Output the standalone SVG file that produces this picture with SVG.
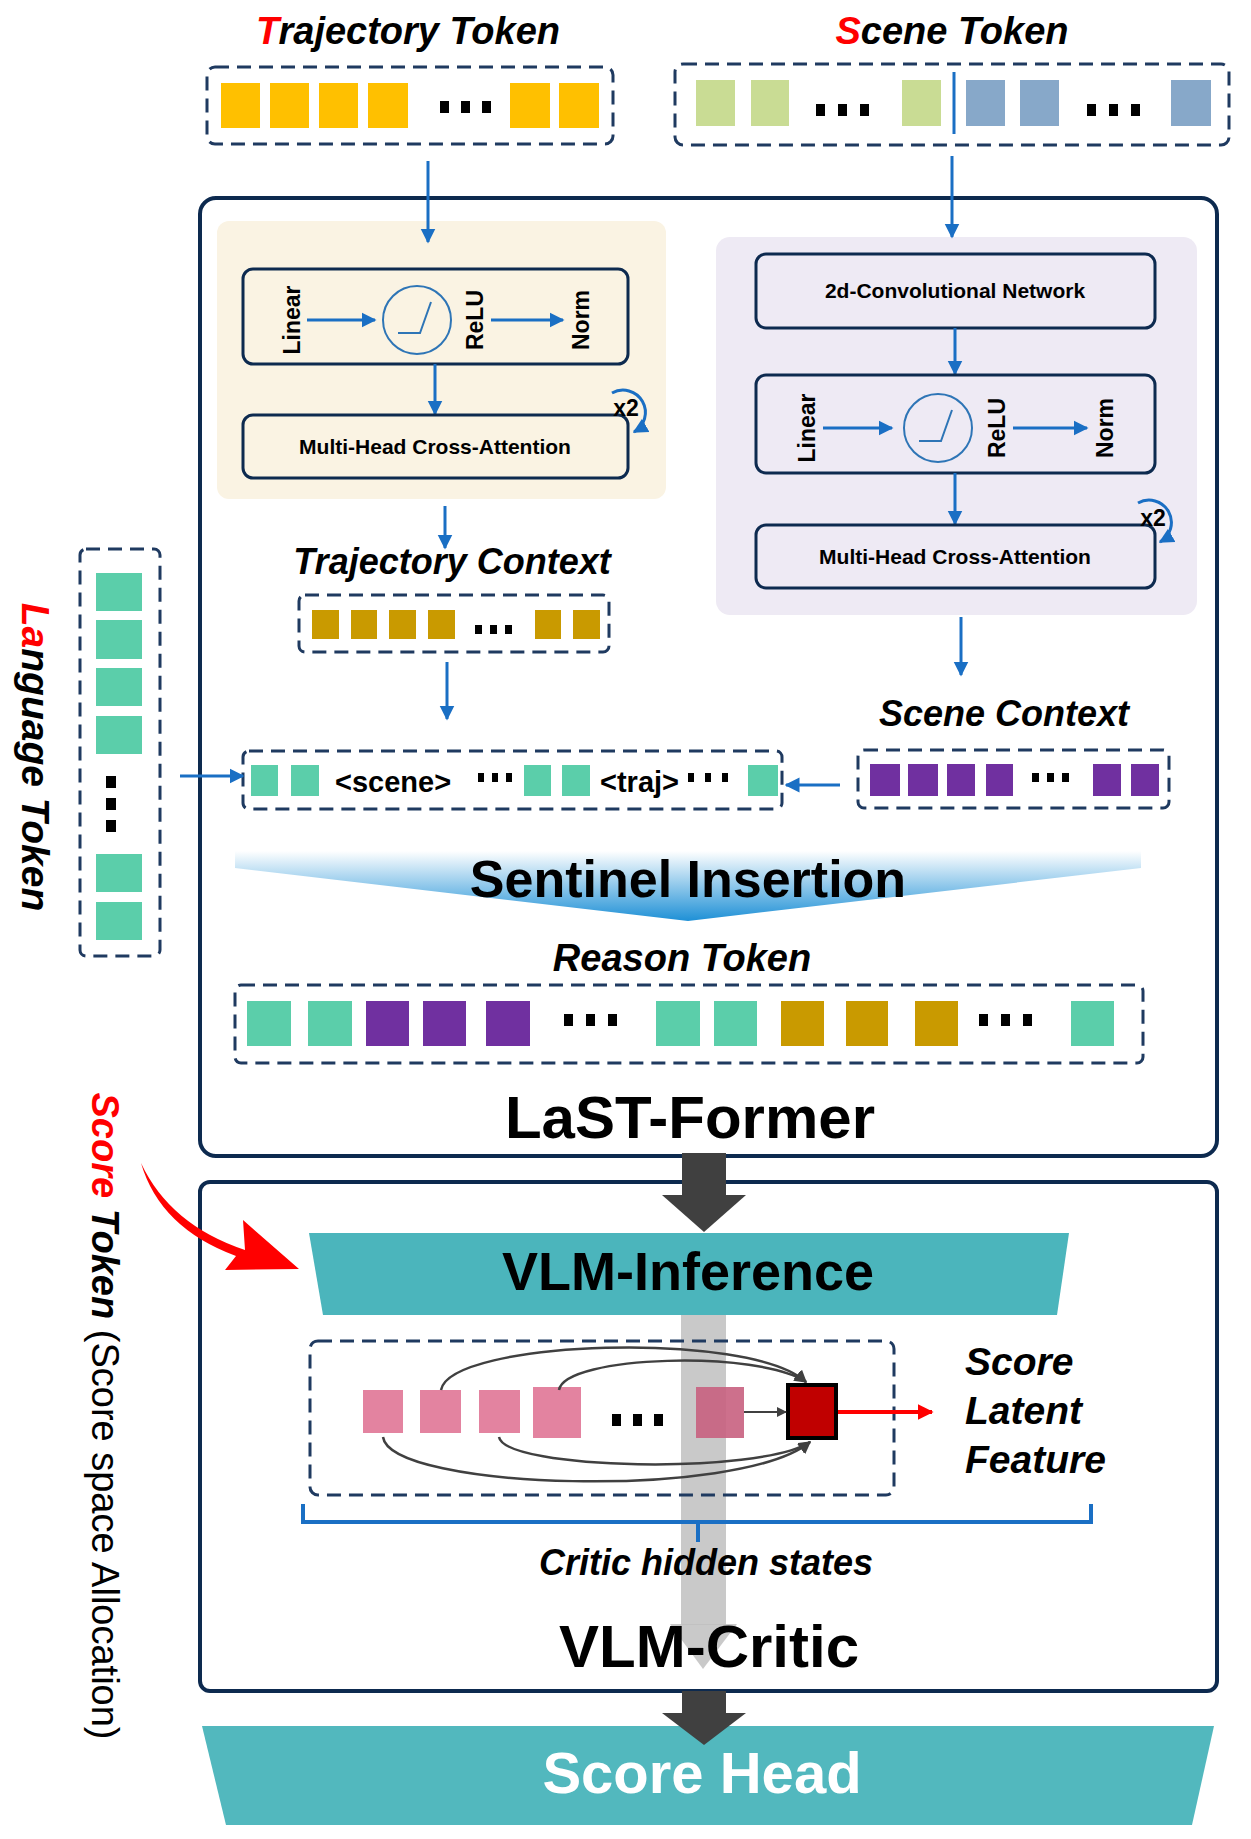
<svg xmlns="http://www.w3.org/2000/svg" width="1251" height="1839" viewBox="0 0 1251 1839">
<style>
text{font-family:"Liberation Sans",Arial,sans-serif;font-weight:bold;fill:#000}
.it{font-style:italic}
.dash{fill:none;stroke:#1F3A60;stroke-width:3;stroke-dasharray:14 8}
.box{fill:none;stroke:#0D2A4F;stroke-width:3}
.bl{stroke:#1A6FC4;stroke-width:3;fill:none}
.y{fill:#FFC000}.g{fill:#C9DC94}.b{fill:#87A8C9}.o{fill:#C99A00}.p{fill:#7030A0}.t{fill:#5BCEAA}.k{fill:#E383A0}
</style>
<defs>
<marker id="ab" viewBox="0 0 10 10" refX="9" refY="5" markerWidth="5" markerHeight="6" orient="auto" markerUnits="strokeWidth"><path d="M0,0L10,5L0,10z" fill="#1A6FC4"/></marker>
<marker id="ag" viewBox="0 0 10 10" refX="9" refY="5" markerWidth="5" markerHeight="5" orient="auto" markerUnits="strokeWidth"><path d="M0,0L10,5L0,10z" fill="#404040"/></marker>
<marker id="ar" viewBox="0 0 10 10" refX="9" refY="5" markerWidth="4" markerHeight="5" orient="auto" markerUnits="strokeWidth"><path d="M0,0L10,5L0,10z" fill="#FF0000"/></marker>
<linearGradient id="sg" x1="0" y1="0" x2="0" y2="1"><stop offset="0" stop-color="#fff"/><stop offset="1" stop-color="#1E90D6"/></linearGradient>
</defs>

<g id="traj-token">
<text x="408" y="44" font-size="38" class="it" text-anchor="middle"><tspan fill="#FF0000">T</tspan>rajectory Token</text>
<rect x="207" y="67" width="406" height="77" rx="8" class="dash"/>
<rect class="y" x="221" y="83" width="39" height="45"/><rect class="y" x="270" y="83" width="39" height="45"/><rect class="y" x="319" y="83" width="39" height="45"/><rect class="y" x="368" y="83" width="40" height="45"/>
<rect x="440" y="101" width="9" height="12"/><rect x="461" y="101" width="9" height="12"/><rect x="482" y="101" width="9" height="12"/>
<rect class="y" x="510" y="83" width="40" height="45"/><rect class="y" x="559" y="83" width="40" height="45"/>
</g>

<g id="scene-token">
<text x="952" y="44" font-size="38" class="it" text-anchor="middle"><tspan fill="#FF0000">S</tspan>cene Token</text>
<rect x="675" y="64" width="554" height="81" rx="8" class="dash"/>
<rect class="g" x="696" y="80" width="39" height="46"/><rect class="g" x="751" y="80" width="38" height="46"/>
<rect x="816" y="104" width="9" height="12"/><rect x="838" y="104" width="9" height="12"/><rect x="860" y="104" width="9" height="12"/>
<rect class="g" x="902" y="80" width="39" height="46"/>
<line x1="954" y1="72" x2="954" y2="134" stroke="#1A6FC4" stroke-width="3"/>
<rect class="b" x="966" y="80" width="39" height="46"/><rect class="b" x="1020" y="80" width="39" height="46"/>
<rect x="1087" y="104" width="9" height="12"/><rect x="1109" y="104" width="9" height="12"/><rect x="1131" y="104" width="9" height="12"/>
<rect class="b" x="1171" y="80" width="40" height="46"/>
</g>

<g id="last-former">
<rect x="200" y="198" width="1017" height="958" rx="16" fill="none" stroke="#0D2A4F" stroke-width="4"/>
<text x="690" y="1138" font-size="60" text-anchor="middle">LaST-Former</text>
</g>

<g id="traj-encoder">
<rect x="217" y="221" width="449" height="278" rx="12" fill="#FAF3E3"/>
<rect x="243" y="269" width="385" height="95" rx="10" class="box"/>
<text transform="translate(300,320) rotate(-90)" font-size="23" text-anchor="middle">Linear</text>
<circle cx="417" cy="320" r="34" fill="none" stroke="#2E75B6" stroke-width="2"/>
<path d="M398,333H420L431,302" fill="none" stroke="#2E75B6" stroke-width="2"/>
<text transform="translate(483,320) rotate(-90)" font-size="23" text-anchor="middle">ReLU</text>
<text transform="translate(589,320) rotate(-90)" font-size="23" text-anchor="middle">Norm</text>
<line x1="307" y1="320" x2="375" y2="320" class="bl" marker-end="url(#ab)"/>
<line x1="491" y1="320" x2="563" y2="320" class="bl" marker-end="url(#ab)"/>
<line x1="435" y1="364" x2="435" y2="414" class="bl" stroke-width="2" marker-end="url(#ab)"/>
<rect x="243" y="415" width="385" height="63" rx="10" class="box"/>
<text x="435" y="454" font-size="21" text-anchor="middle">Multi-Head Cross-Attention</text>
<path d="M612,393A22,22 0 1 1 634,432" class="bl" stroke-width="2.5" marker-end="url(#ab)"/>
<text x="626" y="416" font-size="23" text-anchor="middle">x2</text>
</g>

<g id="scene-encoder">
<rect x="716" y="237" width="481" height="378" rx="14" fill="#EEEAF4"/>
<rect x="756" y="254" width="399" height="74" rx="10" class="box"/>
<text x="955" y="298" font-size="21" text-anchor="middle">2d-Convolutional Network</text>
<line x1="955" y1="328" x2="955" y2="374" class="bl" stroke-width="2" marker-end="url(#ab)"/>
<rect x="756" y="375" width="399" height="98" rx="10" class="box"/>
<text transform="translate(815,428) rotate(-90)" font-size="23" text-anchor="middle">Linear</text>
<circle cx="938" cy="428" r="34" fill="none" stroke="#2E75B6" stroke-width="2"/>
<path d="M919,441H941L952,410" fill="none" stroke="#2E75B6" stroke-width="2"/>
<text transform="translate(1005,428) rotate(-90)" font-size="23" text-anchor="middle">ReLU</text>
<text transform="translate(1113,428) rotate(-90)" font-size="23" text-anchor="middle">Norm</text>
<line x1="823" y1="428" x2="892" y2="428" class="bl" marker-end="url(#ab)"/>
<line x1="1013" y1="428" x2="1087" y2="428" class="bl" marker-end="url(#ab)"/>
<line x1="955" y1="473" x2="955" y2="524" class="bl" stroke-width="2" marker-end="url(#ab)"/>
<rect x="756" y="525" width="399" height="63" rx="10" class="box"/>
<text x="955" y="564" font-size="21" text-anchor="middle">Multi-Head Cross-Attention</text>
<path d="M1138,503A22,22 0 1 1 1160,542" class="bl" stroke-width="2.5" marker-end="url(#ab)"/>
<text x="1153" y="526" font-size="23" text-anchor="middle">x2</text>
</g>

<g id="traj-context">
<text x="452" y="574" font-size="36" class="it" text-anchor="middle">Trajectory Context</text>
<rect x="299" y="595" width="310" height="57" rx="6" class="dash" stroke-width="2.5"/>
<rect class="o" x="312" y="610" width="27" height="29"/><rect class="o" x="351" y="610" width="26" height="29"/><rect class="o" x="389" y="610" width="27" height="29"/><rect class="o" x="428" y="610" width="27" height="29"/>
<rect x="475" y="625" width="7" height="9"/><rect x="490" y="625" width="7" height="9"/><rect x="505" y="625" width="7" height="9"/>
<rect class="o" x="535" y="610" width="26" height="29"/><rect class="o" x="573" y="610" width="27" height="29"/>
</g>

<g id="scene-context">
<text x="1004" y="726" font-size="36" class="it" text-anchor="middle">Scene Context</text>
<rect x="858" y="750" width="311" height="58" rx="6" class="dash" stroke-width="2.5"/>
<rect class="p" x="870" y="764" width="30" height="32"/><rect class="p" x="908" y="764" width="30" height="32"/><rect class="p" x="947" y="764" width="28" height="32"/><rect class="p" x="986" y="764" width="27" height="32"/>
<rect x="1032" y="773" width="7" height="9"/><rect x="1047" y="773" width="7" height="9"/><rect x="1062" y="773" width="7" height="9"/>
<rect class="p" x="1093" y="764" width="28" height="32"/><rect class="p" x="1131" y="764" width="28" height="32"/>
</g>

<g id="language-token">
<rect x="80" y="549" width="80" height="407" rx="6" class="dash"/>
<rect class="t" x="96" y="573" width="46" height="38"/><rect class="t" x="96" y="620" width="46" height="39"/><rect class="t" x="96" y="668" width="46" height="38"/><rect class="t" x="96" y="716" width="46" height="38"/>
<rect x="106" y="776" width="10" height="12"/><rect x="106" y="798" width="10" height="12"/><rect x="106" y="820" width="10" height="12"/>
<rect class="t" x="96" y="854" width="46" height="38"/><rect class="t" x="96" y="902" width="46" height="38"/>
<text transform="translate(22,757) rotate(90)" font-size="39" class="it" text-anchor="middle"><tspan fill="#FF0000">La</tspan>nguage Token</text>
</g>

<g id="sentinel-seq">
<rect x="243" y="751" width="539" height="58" rx="6" class="dash" stroke-width="2.5"/>
<rect class="t" x="251" y="765" width="27" height="31"/><rect class="t" x="291" y="765" width="28" height="31"/>
<text x="335" y="792" font-size="29" font-weight="normal">&lt;scene&gt;</text>
<rect x="478" y="773" width="6" height="9"/><rect x="492" y="773" width="6" height="9"/><rect x="506" y="773" width="6" height="9"/>
<rect class="t" x="524" y="765" width="27" height="31"/><rect class="t" x="562" y="765" width="28" height="31"/>
<text x="600" y="792" font-size="29" font-weight="normal">&lt;traj&gt;</text>
<rect x="688" y="773" width="6" height="9"/><rect x="705" y="773" width="6" height="9"/><rect x="722" y="773" width="6" height="9"/>
<rect class="t" x="748" y="765" width="30" height="31"/>
</g>

<g id="sentinel-insertion">
<path d="M235,851H1141V868L688,921L235,868Z" fill="url(#sg)"/>
<text x="688" y="897" font-size="52" text-anchor="middle">Sentinel Insertion</text>
</g>

<g id="reason-token">
<text x="682" y="971" font-size="38" class="it" text-anchor="middle">Reason Token</text>
<rect x="235" y="985" width="908" height="78" rx="6" class="dash"/>
<rect class="t" x="247" y="1001" width="44" height="45"/><rect class="t" x="308" y="1001" width="44" height="45"/>
<rect class="p" x="366" y="1001" width="43" height="45"/><rect class="p" x="423" y="1001" width="43" height="45"/><rect class="p" x="486" y="1001" width="44" height="45"/>
<rect x="564" y="1014" width="9" height="12"/><rect x="586" y="1014" width="9" height="12"/><rect x="608" y="1014" width="9" height="12"/>
<rect class="t" x="656" y="1001" width="44" height="45"/><rect class="t" x="714" y="1001" width="43" height="45"/>
<rect class="o" x="781" y="1001" width="43" height="45"/><rect class="o" x="846" y="1001" width="42" height="45"/><rect class="o" x="915" y="1001" width="43" height="45"/>
<rect x="979" y="1014" width="9" height="12"/><rect x="1001" y="1014" width="9" height="12"/><rect x="1023" y="1014" width="9" height="12"/>
<rect class="t" x="1071" y="1001" width="43" height="45"/>
</g>

<g id="vlm-critic">
<rect x="200" y="1182" width="1017" height="509" rx="10" fill="none" stroke="#0D2A4F" stroke-width="4"/>
<path d="M309,1233H1069L1057,1315H323Z" fill="#4BB5BC"/>
<text x="688" y="1290" font-size="54" text-anchor="middle">VLM-Inference</text>
<rect x="681" y="1315" width="45" height="310" fill="#C0C0C0" opacity="0.85"/>
<path d="M670,1624H737L703,1669Z" fill="#C0C0C0" opacity="0.85"/>
<rect x="310" y="1341" width="584" height="154" rx="8" class="dash"/>
<rect class="k" x="363" y="1390" width="40" height="43"/><rect class="k" x="420" y="1390" width="41" height="43"/><rect class="k" x="479" y="1390" width="41" height="43"/><rect class="k" x="533" y="1387" width="48" height="51"/>
<rect x="612" y="1414" width="9" height="12"/><rect x="633" y="1414" width="9" height="12"/><rect x="654" y="1414" width="9" height="12"/>
<rect x="696" y="1387" width="48" height="51" fill="#C8607F" opacity="0.9"/>
<text x="706" y="1575" font-size="36" class="it" text-anchor="middle">Critic hidden states</text>
<text x="709" y="1667" font-size="60" text-anchor="middle">VLM-Critic</text>
<rect x="788" y="1385" width="48" height="53" fill="#C00000" stroke="#000" stroke-width="4"/>
<text class="it" font-size="39" x="965" y="1375">Score</text>
<text class="it" font-size="39" x="965" y="1424">Latent</text>
<text class="it" font-size="39" x="965" y="1473">Feature</text>
</g>

<g id="score-head">
<path d="M202,1726H1214L1192,1825H226Z" fill="#52B8BE"/>
<text x="702" y="1793" font-size="58" text-anchor="middle" style="fill:#fff">Score Head</text>
</g>

<g id="score-token">
<text transform="translate(92,1416) rotate(90)" font-size="38" text-anchor="middle"><tspan class="it" fill="#FF0000">Score</tspan><tspan class="it"> Token</tspan><tspan font-weight="normal"> (Score space Allocation)</tspan></text>
</g>

<g id="connectors">
<line x1="428" y1="161" x2="428" y2="242" class="bl" stroke-width="4" marker-end="url(#ab)"/>
<line x1="952" y1="156" x2="952" y2="237" class="bl" stroke-width="4" marker-end="url(#ab)"/>
<line x1="445" y1="506" x2="445" y2="548" class="bl" stroke-width="4" marker-end="url(#ab)"/>
<line x1="447" y1="662" x2="447" y2="719" class="bl" stroke-width="4" marker-end="url(#ab)"/>
<line x1="961" y1="617" x2="961" y2="675" class="bl" stroke-width="4" marker-end="url(#ab)"/>
<line x1="840" y1="785" x2="786" y2="785" class="bl" stroke-width="5" marker-end="url(#ab)"/>
<line x1="180" y1="776" x2="243" y2="776" class="bl" stroke-width="5" marker-end="url(#ab)"/>
<rect x="682" y="1153" width="44" height="44" fill="#404040"/>
<path d="M662,1195H746L704,1232Z" fill="#404040"/>
<rect x="682" y="1691" width="44" height="24" fill="#404040"/>
<path d="M662,1713H746L704,1745Z" fill="#404040"/>
<path d="M141,1163Q170,1225 245,1250L243,1220L299,1269L225,1270L236,1256Q160,1228 141,1163Z" fill="#FF0000"/>
<line x1="744" y1="1412" x2="786" y2="1412" stroke="#404040" stroke-width="2" marker-end="url(#ag)"/>
<line x1="838" y1="1412" x2="932" y2="1412" stroke="#FF0000" stroke-width="4" marker-end="url(#ar)"/>
<g fill="none" stroke="#404040" stroke-width="2.5">
<path d="M441,1390C450,1340 750,1330 806,1382" marker-end="url(#ag)"/>
<path d="M559,1390C565,1355 760,1350 806,1382" marker-end="url(#ag)"/>
<path d="M383,1437C390,1490 740,1500 810,1442" marker-end="url(#ag)"/>
<path d="M499,1437C505,1470 760,1475 810,1442" marker-end="url(#ag)"/>
</g>
<path d="M303,1504V1522H1091V1504M698,1522V1542" fill="none" stroke="#1A6FC4" stroke-width="4"/>
</g>
</svg>
